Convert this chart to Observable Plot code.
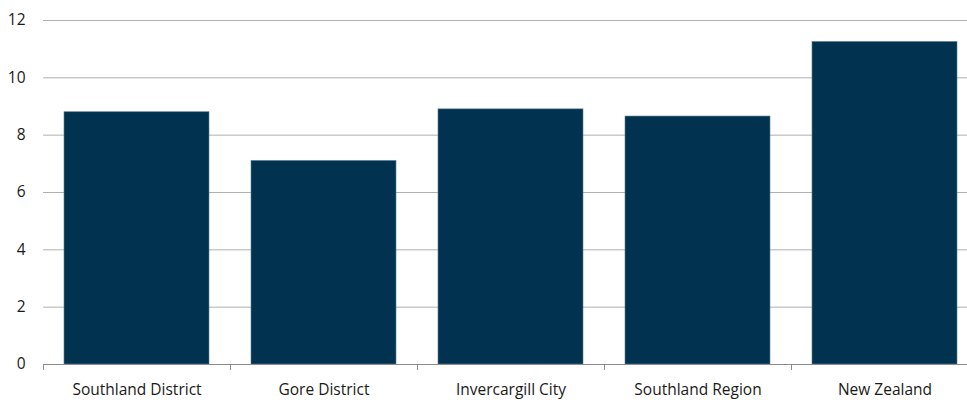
<!DOCTYPE html>
<html>
<head>
<meta charset="utf-8">
<script src="https://cdn.jsdelivr.net/npm/d3@7"></script>
<script src="https://cdn.jsdelivr.net/npm/@observablehq/plot@0.6"></script>
<style>
  html, body { margin: 0; padding: 0; background: #fff; overflow: hidden; }
  #chart svg { overflow: hidden; }
</style>
</head>
<body>
<div id="chart"></div>
<script>
// Areas compared, and the value for each
const categories = ["Southland District", "Gore District", "Invercargill City", "Southland Region", "New Zealand"];
const values = [8.8, 7.1, 8.9, 8.65, 11.25];
const yTicks = [0, 2, 4, 6, 8, 10, 12];

// Each area occupies one unit slot on a linear x scale; boundaries get the tick marks
const rows = categories.map((name, i) => ({name, i, value: values[i]}));
const boundaries = d3.range(categories.length + 1);
const centers = rows.map(d => d.i + 0.5);

const font = "'Open Sans', 'Noto Sans', sans-serif";

const chart = Plot.plot({
  width: 967,
  height: 400,
  marginLeft: 43,
  marginRight: -11,
  marginTop: 20,
  marginBottom: 36,
  style: {fontFamily: font, fontSize: "15.5px", color: "#1a1a1a", background: "#fff"},
  x: {type: "linear", domain: [0, categories.length], axis: null},
  y: {domain: [0, 12], axis: null},
  marks: [
    Plot.gridY(yTicks.filter(t => t > 0), {stroke: "#b0b0b0", strokeOpacity: 1, strokeWidth: 1}),
    Plot.rectY(rows, {
      x1: "i",
      x2: d => d.i + 1,
      y: "value",
      insetLeft: 21,
      insetRight: 21,
      fill: "#01324f",
      stroke: "#5b7c96",
      strokeWidth: 0.6
    }),
    Plot.ruleY([0], {stroke: "#8c8c8c", strokeWidth: 1}),
    Plot.axisX({
      ticks: boundaries,
      tickFormat: () => "",
      tickSize: 6,
      stroke: "#8c8c8c",
      label: null
    }),
    Plot.axisX({
      ticks: centers,
      tickFormat: c => categories[Math.floor(c)],
      tickSize: 0,
      tickPadding: 19,
      fontSize: 15.5,
      fill: "#1a1a1a",
      label: null
    }),
    Plot.axisY({
      ticks: yTicks,
      tickSize: 0,
      tickPadding: 18,
      fontSize: 15.5,
      fill: "#1a1a1a",
      label: null
    })
  ]
});

document.getElementById("chart").appendChild(chart);
</script>
</body>
</html>
